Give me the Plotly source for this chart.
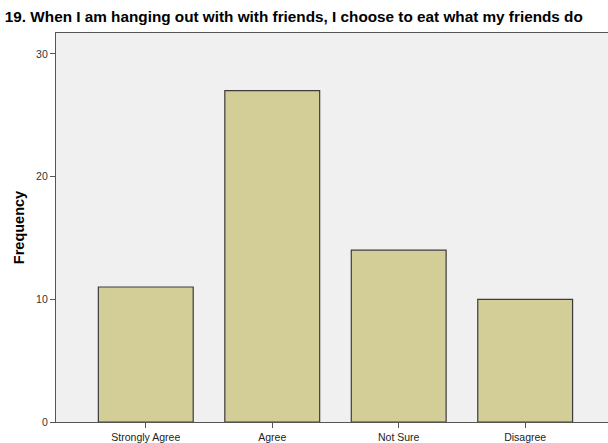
import plotly.graph_objects as go

categories = ["Strongly Agree", "Agree", "Not Sure", "Disagree"]
frequency = [11, 27, 14, 10]
title = "19. When I am hanging out with with friends, I choose to eat what my friends do"

fig = go.Figure(
    go.Bar(
        x=categories,
        y=frequency,
        width=0.75,
        marker=dict(color="#d3ce97", line=dict(color="#3c3c3c", width=1.2)),
    )
)

fig.update_layout(
    width=608,
    height=443,
    margin=dict(l=56, r=0, t=33, b=19),
    paper_bgcolor="white",
    plot_bgcolor="#f0f0f0",
    showlegend=False,
    font=dict(family="Liberation Sans, Arial", color="#333333"),
    title=dict(
        text="<b>" + title + "</b>",
        x=0.008, xanchor="left", y=0.962, yanchor="middle",
        font=dict(size=15.3, color="black"),
    ),
)

fig.update_xaxes(
    range=[-0.71, 3.655],
    showline=True, linecolor="#555555", linewidth=1.2, mirror=True,
    ticks="outside", ticklen=5, tickcolor="#555555",
    tickfont=dict(size=10.5, color="#222222"),
    showgrid=False, zeroline=False,
)
fig.update_yaxes(
    range=[0, 31.7],
    tickvals=[0, 10, 20, 30],
    showline=True, linecolor="#555555", linewidth=1.2,
    ticks="outside", ticklen=5, tickcolor="#555555",
    tickfont=dict(size=10.5, color="#333333"),
    showgrid=False, zeroline=False,
    automargin=False,
    title=dict(text="<b>Frequency</b>", font=dict(size=14.5, color="black"), standoff=8),
)

# drop the default body margin so the figure fills the window without scrollbars
fig.write_html(
    "out.html",
    config={"displayModeBar": False},
    post_script="document.body.style.margin='0';document.body.style.overflow='hidden';",
)
